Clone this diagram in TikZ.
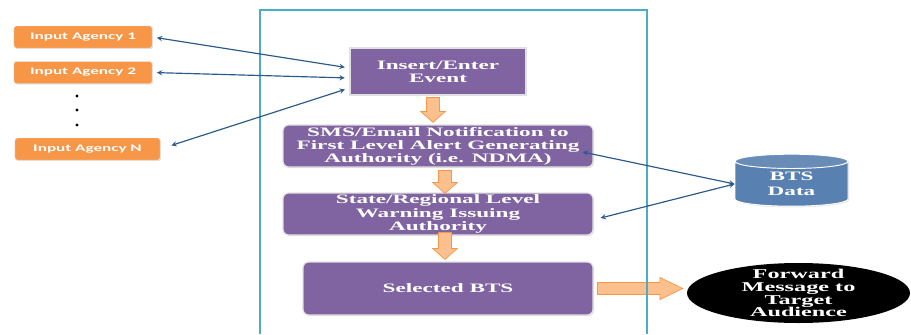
\documentclass[tikz,border=0pt]{standalone}
\usepackage{fontspec}
\usepackage{tikz}
\usetikzlibrary{shapes.geometric,shadows,calc}
\newfontfamily\agencyfont[FakeStretch=1.7]{Carlito}
\newfontfamily\boxfont[FakeStretch=1.8]{Liberation Serif}
\definecolor{agencyorange}{HTML}{F79646}
\definecolor{boxpurple}{HTML}{8064A2}
\definecolor{frameteal}{HTML}{4BACC6}
\definecolor{cylblue}{HTML}{4F81BD}
\definecolor{linkblue}{HTML}{2A5A8A}
\definecolor{blkfill}{HTML}{FBC08E}
\newcommand{\blkdown}[2]{\draw[blk] let \p1=(#1), \p2=(#2) in
  (\x1-5.5pt,\y1) -- (\x1-5.5pt,\y2+9.4pt) -- (\x1-10.6pt,\y2+9.4pt) -- (\x1,\y2)
  -- (\x1+10.6pt,\y2+9.4pt) -- (\x1+5.5pt,\y2+9.4pt) -- (\x1+5.5pt,\y1) -- cycle;}
\newcommand{\blkright}[2]{\draw[blk] let \p1=(#1), \p2=(#2) in
  (\x1,\y1+5.1pt) -- (\x2-19.5pt,\y1+5.1pt) -- (\x2-19.5pt,\y1+9.4pt) -- (\x2,\y1)
  -- (\x2-19.5pt,\y1-9.4pt) -- (\x2-19.5pt,\y1-5.1pt) -- (\x1,\y1-5.1pt) -- cycle;}

\begin{document}
\begin{tikzpicture}[x=0.3mm, y=-0.3mm,
  agency/.style={rectangle, rounded corners=2pt, fill=agencyorange, draw=black!10, text=white,
    font=\agencyfont\bfseries\fontsize{8.6}{9}\selectfont, minimum width=41.4mm, minimum height=6.6mm,
    drop shadow={opacity=0.2, shadow xshift=1pt, shadow yshift=-1pt}},
  stepbox/.style={rectangle, rounded corners=5pt, fill=boxpurple, draw=black!12, line width=1pt, text=white,
    inner sep=0pt, align=center, font=\boxfont\bfseries\fontsize{11}{11.2}\selectfont,
    drop shadow={opacity=0.2, shadow xshift=1pt, shadow yshift=-1pt}},
  btsdata/.style={cylinder, shape border rotate=90, aspect=0.3, draw=white, line width=0.8pt,
    cylinder uses custom fill, cylinder body fill=cylblue, cylinder end fill=cylblue!88!white,
    minimum width=33.9mm, minimum height=15.6mm, text=white, align=center, inner sep=0pt,
    font=\boxfont\bfseries\fontsize{11}{12.75}\selectfont,
    drop shadow={opacity=0.2, shadow xshift=1pt, shadow yshift=-1pt}},
  target/.style={ellipse, fill=black, minimum width=66.9mm, minimum height=18mm, inner sep=0pt},
  tgttext/.style={text=white, align=center, inner sep=0pt, font=\boxfont\bfseries\fontsize{11.5}{11}\selectfont},
  blk/.style={fill=blkfill, draw=agencyorange, line width=0.6pt},
  link/.style={<->, >=stealth, linkblue, line width=1pt, shorten <=4pt, shorten >=4pt}]
\useasboundingbox (0,0) rectangle (911,334);
\node[agency] (ag1) at (83,37) {Input Agency 1};
\node[agency] (ag2) at (83,72.5) {Input Agency 2};
\node[agency, minimum width=43.5mm] (agN) at (87.5,149) {Input Agency N};
\foreach \y in {96,110,125}
    \fill (77,\y) circle (1.3pt);
\node[stepbox, rounded corners=0pt, minimum width=52.8mm, minimum height=14.1mm] (insert) at (438,71.5) {Insert/Enter\\Event};
\node[stepbox, minimum width=93mm, minimum height=12.6mm] (sms) at (438,146) {SMS/Email Notification to\\First Level Alert Generating\\Authority (i.e. NDMA)};
\node[stepbox, minimum width=93mm, minimum height=12.6mm] (state) at (438,214) {State/Regional Level\\Warning Issuing\\Authority};
\node[stepbox, minimum width=87mm, minimum height=15.9mm] (selected) at (448,288.5) {Selected BTS};
\node[btsdata] (bts) at (791.5,184) {BTS\\Data};
\node[target] (target) at (798.5,293) {};
\node[tgttext] (targetlbl) at (target.center) {Forward\\Message to\\Target\\Audience};
\blkdown{[shift={(-5,2)}]insert.south}{[shift={(-5,-2)}]sms.north}
\blkdown{[shift={(7,3)}]sms.south}{[shift={(7,1)}]state.north}
\blkdown{[shift={(7,-3)}]state.south}{[shift={(0,-2)}]selected.north}
\blkright{[shift={(4,0)}]selected.east}{[shift={(-4,0)}]target.west}
\draw[frameteal, line width=1.6pt] (260,334) -- (260,10) -- (647,10) -- (647,334);
\draw[link] ([shift={(0,-3.5)}]insert.west) -- (ag1.east);
\draw[link] ([shift={(0,6.5)}]insert.west) -- (ag2.east);
\draw[link, shorten >=10pt] ([shift={(0,16.5)}]insert.west) -- (agN.east);
\draw[link, shorten <=0pt, shorten >=0pt] (bts.west) -- ([shift={(-11,6)}]sms.east);
\draw[link, shorten <=0pt, shorten >=0pt] (bts.west) -- ([shift={(7,4)}]state.east);
\end{tikzpicture}
\end{document}
